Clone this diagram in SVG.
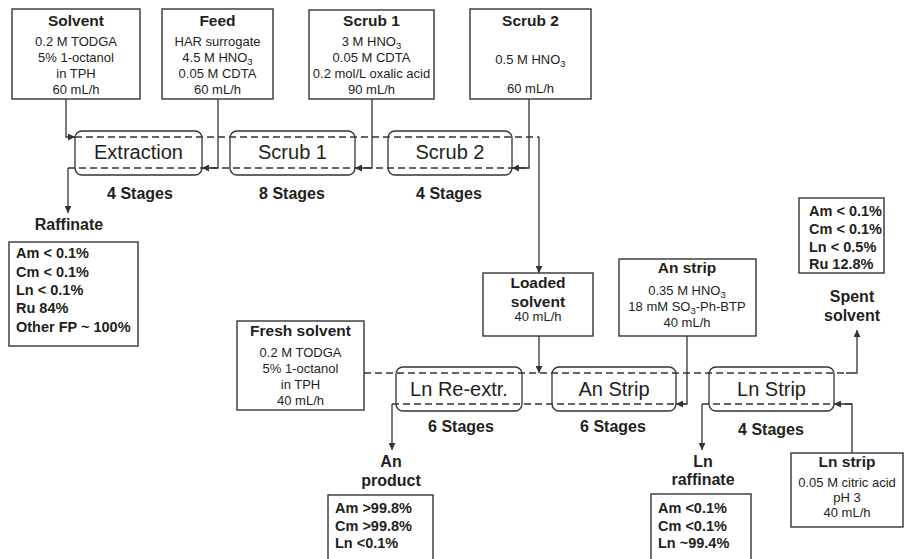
<svg xmlns="http://www.w3.org/2000/svg" width="905" height="559" viewBox="0 0 905 559">
  <style>
    .box { fill: #fff; stroke: #333; stroke-width: 1.4; }
    .stage { fill: none; stroke: #333; stroke-width: 1.3; }
    .flow { fill: none; stroke: #333; stroke-width: 1.3; }
    .dash { fill: none; stroke: #333; stroke-width: 1.3; stroke-dasharray: 7 4; }
    text { font-family: "Liberation Sans", Arial, sans-serif; fill: #231f20; }
    .title { font-size: 15.5px; font-weight: bold; text-anchor: middle; }
    .body { font-size: 13px; text-anchor: middle; }
    .big { font-size: 20px; text-anchor: middle; }
    .lbl { font-size: 16px; font-weight: bold; text-anchor: middle; }
    .res { font-size: 14.5px; font-weight: bold; }
  </style>
  <defs>
    <marker id="arrow" viewBox="0 0 10 10" refX="10" refY="5" markerWidth="9" markerHeight="7" markerUnits="userSpaceOnUse" orient="auto">
      <path d="M0,0 L10,5 L0,10 z" fill="#333"/>
    </marker>
  </defs>

  <!-- connectors -->
  <g id="connectors">
    <!-- extraction battery: organic (top) and aqueous (bottom) lines -->
    <line class="dash" x1="75" y1="137" x2="539" y2="137"/>
    <line class="dash" x1="68" y1="168" x2="529" y2="168"/>
    <polyline class="flow" points="66,99 66,137 75,137" marker-end="url(#arrow)"/>
    <polyline class="flow" points="218,99 218,168 202,168" marker-end="url(#arrow)"/>
    <polyline class="flow" points="372,99 372,168 355,168" marker-end="url(#arrow)"/>
    <polyline class="flow" points="529,99 529,168 512,168" marker-end="url(#arrow)"/>
    <line class="flow" x1="68" y1="168" x2="68" y2="213" marker-end="url(#arrow)"/>
    <line class="flow" x1="539" y1="137" x2="539" y2="273" marker-end="url(#arrow)"/>

    <!-- stripping battery -->
    <line class="dash" x1="364" y1="373" x2="846" y2="373"/>
    <polyline class="flow" points="846,373 857,373 857,330" marker-end="url(#arrow)"/>
    <line class="dash" x1="392" y1="404" x2="687" y2="404"/>
    <line class="dash" x1="702" y1="404" x2="852" y2="404"/>
    <line class="flow" x1="539" y1="336" x2="539" y2="373" marker-end="url(#arrow)"/>
    <polyline class="flow" points="687,336 687,404 676,404" marker-end="url(#arrow)"/>
    <polyline class="flow" points="852,453 852,404 834,404" marker-end="url(#arrow)"/>
    <line class="flow" x1="392" y1="404" x2="392" y2="450" marker-end="url(#arrow)"/>
    <line class="flow" x1="702" y1="404" x2="702" y2="450" marker-end="url(#arrow)"/>
  </g>

  <!-- feed boxes, top row -->
  <g id="solvent">
    <rect class="box" x="12" y="9" width="128" height="90"/>
    <text class="title" x="76" y="26">Solvent</text>
    <text class="body" x="76" y="46">0.2 M TODGA</text>
    <text class="body" x="76" y="62">5% 1-octanol</text>
    <text class="body" x="76" y="78">in TPH</text>
    <text class="body" x="76" y="94">60 mL/h</text>
  </g>
  <g id="feed">
    <rect class="box" x="162" y="9" width="111" height="90"/>
    <text class="title" x="217.5" y="26">Feed</text>
    <text class="body" x="217.5" y="46">HAR surrogate</text>
    <text class="body" x="217.5" y="62">4.5 M HNO<tspan dy="3" font-size="9.5">3</tspan></text>
    <text class="body" x="217.5" y="78">0.05 M CDTA</text>
    <text class="body" x="217.5" y="94">60 mL/h</text>
  </g>
  <g id="scrub1-feed">
    <rect class="box" x="309" y="10" width="125" height="89"/>
    <text class="title" x="371.5" y="26">Scrub 1</text>
    <text class="body" x="371.5" y="46">3 M HNO<tspan dy="3" font-size="9.5">3</tspan></text>
    <text class="body" x="371.5" y="62">0.05 M CDTA</text>
    <text class="body" x="371.5" y="78">0.2 mol/L oxalic acid</text>
    <text class="body" x="371.5" y="94">90 mL/h</text>
  </g>
  <g id="scrub2-feed">
    <rect class="box" x="470" y="9" width="121" height="90"/>
    <text class="title" x="530.5" y="26">Scrub 2</text>
    <text class="body" x="530.5" y="64">0.5 M HNO<tspan dy="3" font-size="9.5">3</tspan></text>
    <text class="body" x="530.5" y="93">60 mL/h</text>
  </g>

  <!-- contactor banks, top row -->
  <g id="extraction">
    <rect class="stage" x="75" y="131" width="127" height="44" rx="7"/>
    <text class="big" x="138.5" y="159">Extraction</text>
    <text class="lbl" x="140" y="199">4 Stages</text>
  </g>
  <g id="scrub1">
    <rect class="stage" x="230" y="131" width="125" height="44" rx="7"/>
    <text class="big" x="292.5" y="159">Scrub 1</text>
    <text class="lbl" x="292" y="199">8 Stages</text>
  </g>
  <g id="scrub2">
    <rect class="stage" x="388" y="131" width="124" height="44" rx="7"/>
    <text class="big" x="450" y="159">Scrub 2</text>
    <text class="lbl" x="449" y="199">4 Stages</text>
  </g>

  <!-- raffinate -->
  <g id="raffinate">
    <text class="lbl" x="69" y="230">Raffinate</text>
    <rect class="box" x="9" y="242" width="129" height="104"/>
    <text class="res" x="16" y="258">Am &lt; 0.1%</text>
    <text class="res" x="16" y="277">Cm &lt; 0.1%</text>
    <text class="res" x="16" y="295">Ln &lt; 0.1%</text>
    <text class="res" x="16" y="313">Ru 84%</text>
    <text class="res" x="16" y="332">Other FP ~ 100%</text>
  </g>

  <!-- loaded solvent -->
  <g id="loaded-solvent">
    <rect class="box" x="483" y="273" width="110" height="63"/>
    <text class="title" x="538" y="288">Loaded</text>
    <text class="title" x="538" y="307">solvent</text>
    <text class="body" x="538" y="321">40 mL/h</text>
  </g>

  <!-- An strip feed -->
  <g id="an-strip-feed">
    <rect class="box" x="619" y="259" width="137" height="77"/>
    <text class="title" x="687" y="273">An strip</text>
    <text class="body" x="687" y="295">0.35 M HNO<tspan dy="3" font-size="9.5">3</tspan></text>
    <text class="body" x="687" y="311">18 mM SO<tspan dy="3" font-size="9.5">3</tspan><tspan dy="-3">-Ph-BTP</tspan></text>
    <text class="body" x="687" y="327">40 mL/h</text>
  </g>

  <!-- spent solvent -->
  <g id="spent-solvent">
    <rect class="box" x="799" y="198" width="85" height="75"/>
    <text class="res" x="809" y="216">Am &lt; 0.1%</text>
    <text class="res" x="809" y="234">Cm &lt; 0.1%</text>
    <text class="res" x="809" y="252">Ln &lt; 0.5%</text>
    <text class="res" x="809" y="269">Ru 12.8%</text>
    <text class="lbl" x="852" y="302">Spent</text>
    <text class="lbl" x="852" y="321">solvent</text>
  </g>

  <!-- fresh solvent -->
  <g id="fresh-solvent">
    <rect class="box" x="237" y="321" width="127" height="89"/>
    <text class="title" x="300.5" y="336">Fresh solvent</text>
    <text class="body" x="300.5" y="357">0.2 M TODGA</text>
    <text class="body" x="300.5" y="373">5% 1-octanol</text>
    <text class="body" x="300.5" y="389">in TPH</text>
    <text class="body" x="300.5" y="405">40 mL/h</text>
  </g>

  <!-- contactor banks, bottom row -->
  <g id="ln-reextr">
    <rect class="stage" x="396" y="367" width="126" height="44" rx="7"/>
    <text class="big" x="459" y="396">Ln Re-extr.</text>
    <text class="lbl" x="461" y="432">6 Stages</text>
  </g>
  <g id="an-strip">
    <rect class="stage" x="552" y="367" width="124" height="44" rx="7"/>
    <text class="big" x="614" y="396">An Strip</text>
    <text class="lbl" x="613" y="432">6 Stages</text>
  </g>
  <g id="ln-strip">
    <rect class="stage" x="709" y="367" width="125" height="44" rx="7"/>
    <text class="big" x="771.5" y="396">Ln Strip</text>
    <text class="lbl" x="771" y="435">4 Stages</text>
  </g>

  <!-- products -->
  <g id="an-product">
    <text class="lbl" x="391" y="467">An</text>
    <text class="lbl" x="391" y="486">product</text>
    <rect class="box" x="328" y="495" width="105" height="80"/>
    <text class="res" x="335" y="513">Am &gt;99.8%</text>
    <text class="res" x="335" y="531">Cm &gt;99.8%</text>
    <text class="res" x="335" y="548">Ln &lt;0.1%</text>
  </g>
  <g id="ln-raffinate">
    <text class="lbl" x="703" y="467">Ln</text>
    <text class="lbl" x="703" y="485">raffinate</text>
    <rect class="box" x="651" y="494" width="100" height="80"/>
    <text class="res" x="658" y="513">Am &lt;0.1%</text>
    <text class="res" x="658" y="531">Cm &lt;0.1%</text>
    <text class="res" x="658" y="548">Ln ~99.4%</text>
  </g>

  <!-- Ln strip feed -->
  <g id="ln-strip-feed">
    <rect class="box" x="791" y="453" width="112" height="74"/>
    <text class="title" x="847" y="467">Ln strip</text>
    <text class="body" x="847" y="487">0.05 M citric acid</text>
    <text class="body" x="847" y="502">pH 3</text>
    <text class="body" x="847" y="517">40 mL/h</text>
  </g>
</svg>
